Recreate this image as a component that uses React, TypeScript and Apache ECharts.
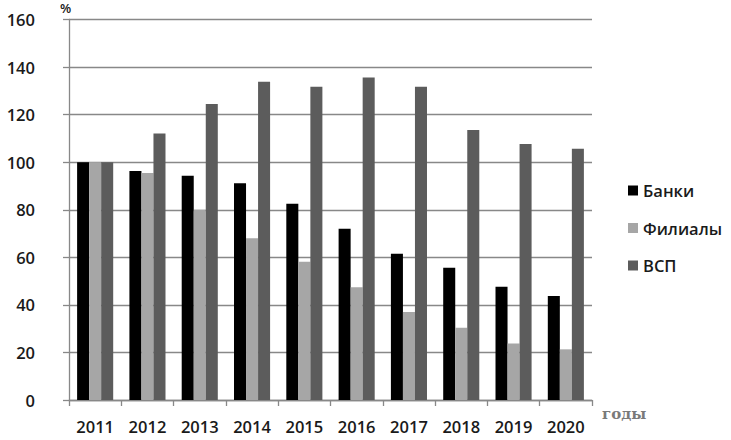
import React, { useEffect, useRef } from "react";
import * as echarts from "echarts";

const years = ["2011", "2012", "2013", "2014", "2015", "2016", "2017", "2018", "2019", "2020"];
const banks = [100, 96.3, 94.3, 91.1, 82.5, 72, 61.5, 55.6, 47.6, 43.7];
const branches = [100, 95.5, 80, 68, 58.1, 47.4, 37, 30.4, 23.8, 21.3];
const vsp = [100, 112.1, 124.5, 133.8, 131.7, 135.6, 131.7, 113.5, 107.6, 105.6];
const seriesNames = ["Банки", "Филиалы", "ВСП"];
const yTicks = { min: 0, max: 160, interval: 20 };

const FONT = "'Open Sans', 'DejaVu Sans', sans-serif";
const TXT = "#1a1a1a";

export default function App() {
  const ref = useRef<HTMLDivElement>(null);
  useEffect(() => {
    if (!ref.current) return;
    const chart = echarts.init(ref.current, undefined, { renderer: "svg" });
    const colors = ["#000000", "#a6a6a6", "#5c5c5c"];
    const data = [banks, branches, vsp];
    chart.setOption({
      animation: false,
      backgroundColor: "#ffffff",
      grid: { left: 69, right: 139, top: 19.5, bottom: 40, containLabel: false },
      legend: {
        orient: "vertical",
        left: 623,
        top: 177,
        itemWidth: 10,
        itemHeight: 10,
        itemGap: 20.5,
        icon: "rect",
        textStyle: { fontFamily: FONT, fontSize: 16.5, fontWeight: 600, color: TXT, lineHeight: 17 },
        data: seriesNames,
      },
      xAxis: {
        type: "category",
        data: years,
        axisLine: { show: true, lineStyle: { color: "#888888", width: 1.3 } },
        axisTick: { show: true, alignWithLabel: false, length: 6, lineStyle: { color: "#888888", width: 1.3 } },
        axisLabel: { fontFamily: FONT, fontSize: 16.5, fontWeight: 600, color: TXT, margin: 18 },
      },
      yAxis: {
        type: "value",
        min: yTicks.min,
        max: yTicks.max,
        interval: yTicks.interval,
        axisLine: { show: true, lineStyle: { color: "#888888", width: 1.3 } },
        axisTick: { show: true, length: 6, lineStyle: { color: "#888888", width: 1.3 } },
        axisLabel: { fontFamily: FONT, fontSize: 16.5, fontWeight: 600, color: TXT, margin: 34, align: "right" },
        splitLine: { show: true, lineStyle: { color: "#888888", width: 1.3 } },
      },
      graphic: [
        {
          type: "text",
          left: 60,
          top: 1,
          style: {
            text: "%",
            fontFamily: FONT,
            fontWeight: 600,
            fontSize: 13,
            fill: TXT,
          },
        },
        {
          type: "text",
          left: 602,
          top: 406,
          style: {
            text: "годы",
            fontFamily: "'DejaVu Serif', 'Liberation Serif', serif",
            fontWeight: "bold",
            fontSize: 15,
            fill: "#7a7a7a",
          },
        },
      ],
      series: seriesNames.map((name, i) => ({
        name,
        type: "bar",
        data: data[i],
        barGap: "0%",
        barCategoryGap: "31%",
        itemStyle: { color: colors[i] },
      })),
    });
    return () => chart.dispose();
  }, []);
  return <div ref={ref} style={{ width: 731, height: 440, position: "absolute", left: 0, top: 0 }} />;
}
